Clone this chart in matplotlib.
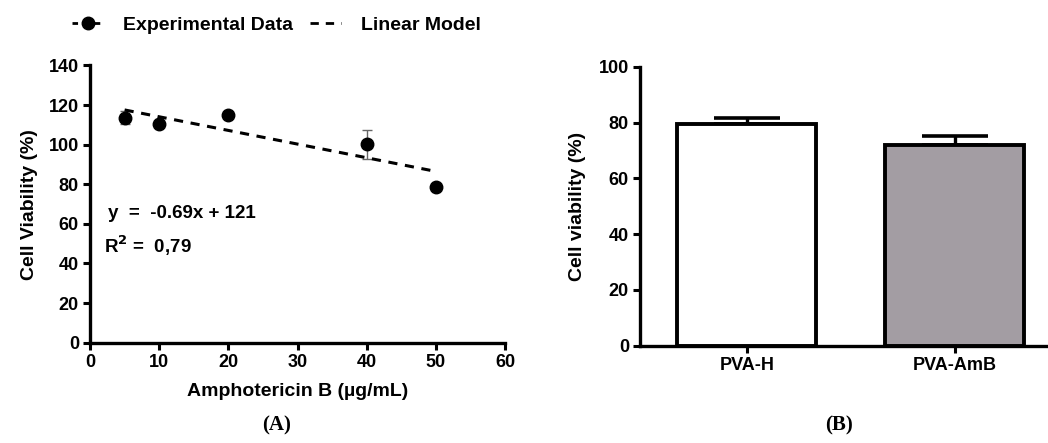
import numpy as np
import matplotlib.pyplot as plt
from matplotlib.lines import Line2D

plt.rcParams['font.family'] = ['Liberation Sans', 'DejaVu Sans']
plt.rcParams['font.weight'] = 'bold'

# ===== Panel A data =====
conc = [5, 10, 20, 40, 50]
viab = [113.6, 110.6, 115.0, 100.2, 78.5]
viab_err = [3.4, 1.0, 0.0, 7.4, 0.0]
slope, intercept = -0.69, 121
fit_x = [5, 50]

# ===== Panel B data =====
groups = ['PVA-H', 'PVA-AmB']
bar_vals = [79.5, 72.0]
bar_err = [2.1, 3.3]
bar_colors = ['white', '#a39da3']

fig = plt.figure(figsize=(10.48, 4.43), dpi=100)

# ---- Panel A ----
axA = fig.add_axes([0.0859, 0.2264, 0.3960, 0.6258])
axA.errorbar(conc, viab, yerr=viab_err, fmt='none', ecolor='#666666',
             elinewidth=1.0, capsize=3.5, capthick=1.0, zorder=2)
axA.plot(conc, viab, 'o', color='black', markersize=9, zorder=3)
fx = np.array(fit_x)
axA.plot(fx, slope * fx + intercept, '--', color='black', lw=2.2,
         dashes=(3, 2.5), zorder=2)
axA.set_xlim(0, 60)
axA.set_ylim(0, 140)
axA.set_xticks(np.arange(0, 61, 10))
axA.set_yticks(np.arange(0, 141, 20))
axA.set_xlabel('Amphotericin B (µg/mL)', fontsize=14, fontweight='bold', labelpad=9)
axA.set_ylabel('Cell Viability (%)', fontsize=14, fontweight='bold', labelpad=8)
axA.text(2.6, 65.5, 'y  =  -0.69x + 121', fontsize=13.5, fontweight='bold', va='center')
axA.text(2.0, 49, 'R$^\\mathbf{2}$ =  0,79', fontsize=13.5, fontweight='bold', va='center')

# ---- Panel B ----
axB = fig.add_axes([0.6107, 0.2196, 0.3893, 0.6298])
pos = np.arange(len(groups))
axB.bar(pos, bar_vals, width=0.67, color=bar_colors, edgecolor='black',
        linewidth=2.8, zorder=2)
axB.errorbar(pos, bar_vals, yerr=[[0, 0], bar_err], fmt='none', ecolor='black',
             elinewidth=2.4, capsize=24, capthick=2.6, zorder=1)
axB.set_xlim(-0.515, 1.45)
axB.set_ylim(0, 100)
axB.set_xticks(pos)
axB.set_xticklabels(groups)
axB.set_yticks(np.arange(0, 101, 20))
axB.set_ylabel('Cell viability (%)', fontsize=14, fontweight='bold', labelpad=9)

for ax in (axA, axB):
    for s in ('top', 'right'):
        ax.spines[s].set_visible(False)
    for s in ('left', 'bottom'):
        ax.spines[s].set_linewidth(2.4)
    ax.tick_params(width=2.2, length=5, labelsize=13, direction='out', pad=3)
    for lab in ax.get_xticklabels() + ax.get_yticklabels():
        lab.set_fontweight('bold')

# ---- Legend ----
handles = [Line2D([], [], color='black', marker='o', markersize=9, lw=2, ls=(0, (2, 2))),
           Line2D([], [], color='black', lw=2, ls=(0, (3, 2.5)))]
fig.legend(handles, ['Experimental Data', 'Linear Model'], loc='center left',
           bbox_to_anchor=(0.052, 0.943), ncol=2, frameon=False,
           prop={'size': 14, 'weight': 'bold'}, handlelength=1.6,
           columnspacing=0.9, handletextpad=1.0)

# ---- Captions ----
fig.text(0.264, 0.04, '(A)', fontsize=15, fontweight='bold',
         family='Liberation Serif', ha='center', va='center')
fig.text(0.801, 0.04, '(B)', fontsize=15, fontweight='bold',
         family='Liberation Serif', ha='center', va='center')

fig.savefig('out.png', dpi=100, facecolor='white')
